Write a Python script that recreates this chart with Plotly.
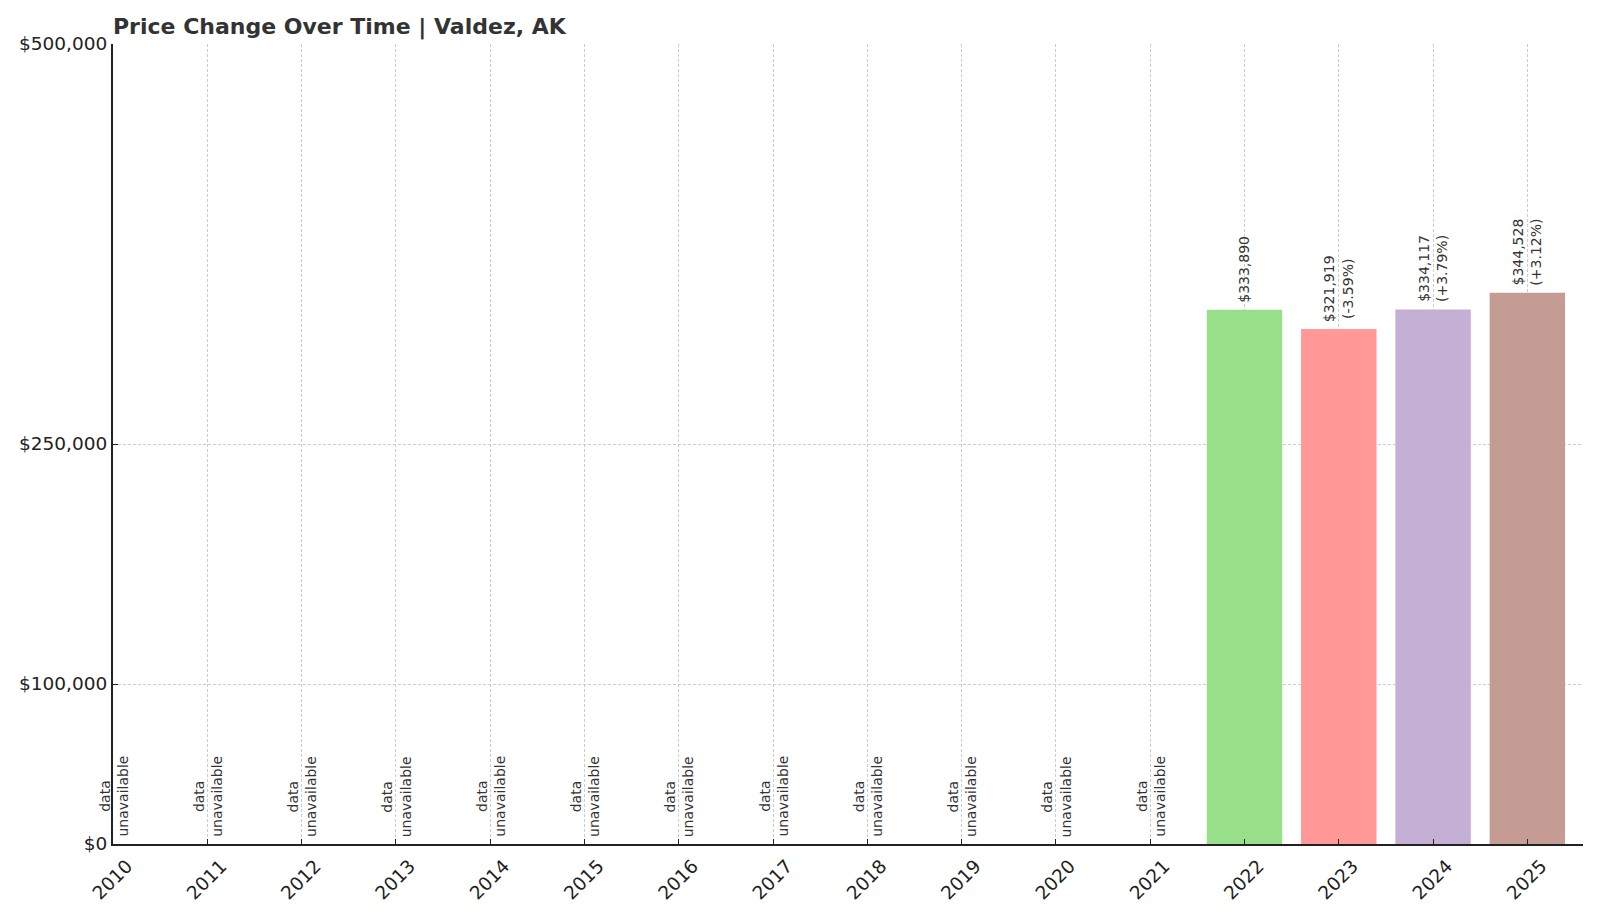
import plotly.graph_objects as go

# data
years = list(range(2010, 2026))
prices = [None] * 12 + [333890, 321919, 334117, 344528]
bar_colors = ["#98df8a", "#ff9896", "#c5b0d5", "#c49c94"]
ytick_vals = [0, 100000, 250000, 500000]
ytick_text = ["$0", "$100,000", "$250,000", "$500,000"]

fig = go.Figure()

known_years = [y for y, p in zip(years, prices) if p is not None]
known_prices = [p for p in prices if p is not None]

fig.add_trace(go.Bar(x=known_years, y=known_prices, width=0.8,
                     marker=dict(color=bar_colors, line=dict(width=0)),
                     hoverinfo="skip"))

# labels above bars / missing years
prev = None
for y, p in zip(years, prices):
    if p is None:
        fig.add_annotation(x=y, y=0, text="data<br>unavailable", textangle=-90,
                           showarrow=False, xanchor="center", yanchor="bottom", yshift=5,
                           font=dict(size=14, color="#333333"))
        continue
    if prev is None:
        txt = f"${p:,.0f}"
    else:
        pct = (p - prev) / prev * 100
        txt = f"${p:,.0f}<br>({pct:+.2f}%)"
    fig.add_annotation(x=y, y=p, text=txt, textangle=-90, showarrow=False,
                       xanchor="center", yanchor="bottom", yshift=5,
                       font=dict(size=14, color="#333333"))
    prev = p

# page has an 8px body margin, margins below account for it
fig.update_layout(
    width=1600, height=914,
    margin=dict(l=105, r=25, t=36, b=78),
    plot_bgcolor="white", paper_bgcolor="white",
    font=dict(family="DejaVu Sans", color="#222222"),
    showlegend=False,
    title=dict(text="<b>Price Change Over Time | Valdez, AK</b>", x=105 / 1600, xanchor="left",
               y=1 - 18 / 914, yanchor="middle", font=dict(size=22, color="#333333")),
    xaxis=dict(range=[2010, 2025.59], tickvals=years, tickangle=-45, ticklabelshift=14,
               ticklabelstandoff=2,
               tickfont=dict(size=18.5), showgrid=True, gridcolor="#cccccc", griddash="3px,2px",
               gridwidth=0.8, showline=True, linecolor="#222222", linewidth=2,
               ticks="inside", ticklen=5, tickcolor="#222222", zeroline=False),
    yaxis=dict(range=[0, 500000], tickvals=ytick_vals, ticktext=ytick_text,
               tickfont=dict(size=18.5), showgrid=True, gridcolor="#cccccc", griddash="3px,2px",
               gridwidth=0.8, showline=True, linecolor="#222222", linewidth=2,
               ticks="inside", ticklen=5, tickcolor="#222222", zeroline=False),
)

fig.write_html("out.html")
